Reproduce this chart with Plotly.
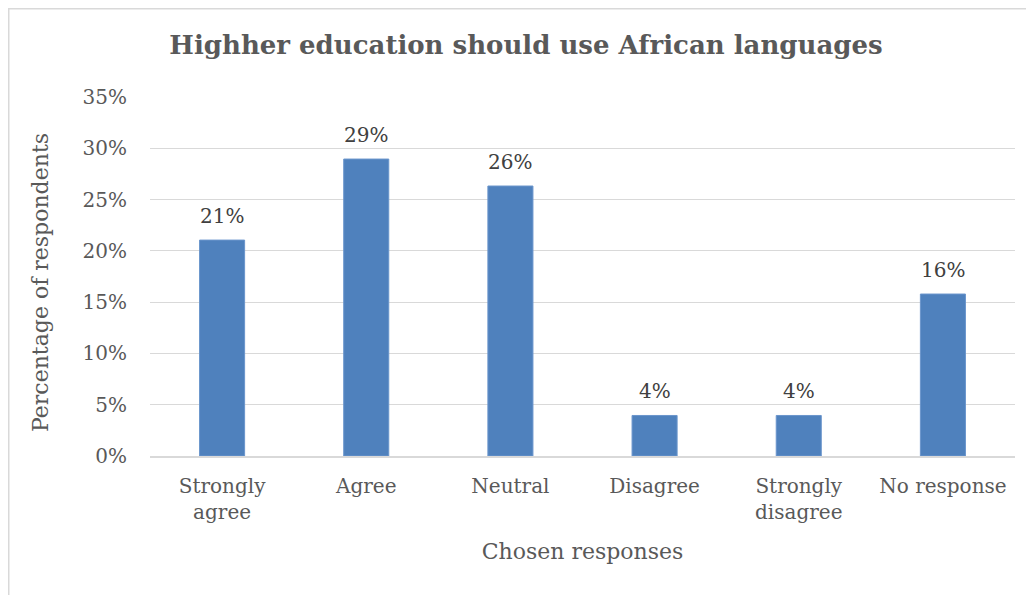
import plotly.graph_objects as go

categories = ["Strongly<br>agree", "Agree", "Neutral", "Disagree", "Strongly<br>disagree", "No response"]
values = [0.2105, 0.2895, 0.2632, 0.0395, 0.0395, 0.1579]
labels = ["21%", "29%", "26%", "4%", "4%", "16%"]
tick_vals = [0, 0.05, 0.10, 0.15, 0.20, 0.25, 0.30, 0.35]
tick_text = ["0%", "5%", "10%", "15%", "20%", "25%", "30%", "35%"]

# page body has an 8px margin, so the figure is sized to fill the rest of the window
W, H = 1026, 587
L, R, T, B = 142, 19, 89, 139
pw, ph = W - L - R, H - T - B
FONT = "DejaVu Serif"
GREY = "#595959"

fig = go.Figure(go.Bar(
    x=categories, y=values,
    marker=dict(color="#4f81bd", line=dict(color="#6a95cc", width=1)),
    hoverinfo="skip",
))

for c, v, t in zip(categories, values, labels):
    fig.add_annotation(x=c, y=v, text=t, showarrow=False, yanchor="bottom", yshift=10,
                       font=dict(family=FONT, size=20, color="#404040"))

# y-axis title placed as annotation to match the reference position
fig.add_annotation(text="Percentage of respondents", textangle=-90, showarrow=False,
                   xref="paper", yref="paper",
                   x=(32 - L) / pw, y=1 - (275 - T) / ph,
                   xanchor="center", yanchor="middle",
                   font=dict(family=FONT, size=22, color=GREY))

fig.update_layout(
    width=W, height=H,
    margin=dict(l=L, r=R, t=T, b=B),
    paper_bgcolor="white", plot_bgcolor="white",
    bargap=0.6875,
    showlegend=False,
    font=dict(family=FONT, color=GREY),
    title=dict(text="<b>Highher education should use African languages</b>",
               x=518 / W, xanchor="center", xref="container",
               y=1 - 37 / H, yanchor="middle", yref="container",
               font=dict(family=FONT, size=26, color=GREY)),
    xaxis=dict(showgrid=False, showline=True, linecolor="#d9d9d9", linewidth=2,
               ticks="", ticklabelstandoff=11,
               tickfont=dict(family=FONT, size=20, color=GREY),
               title=dict(text="Chosen responses", font=dict(family=FONT, size=22, color=GREY), standoff=21)),
    yaxis=dict(range=[0, 0.35], tickvals=tick_vals, ticktext=tick_text,
               showgrid=True, gridcolor="#d9d9d9", gridwidth=1, zeroline=False,
               ticks="", ticklabelstandoff=22,
               tickfont=dict(family=FONT, size=20, color=GREY)),
)

# chart border (light grey frame, partly cropped in the reference)
fig.add_shape(type="rect", xref="paper", yref="paper",
              x0=(0.75 - L) / pw, x1=(W + 20 - L) / pw,
              y0=-(H + 20 - T - ph) / ph, y1=(T - 0.75 + ph) / ph,
              line=dict(color="#d9d9d9", width=1.5), layer="below")

fig.write_html("out.html")
